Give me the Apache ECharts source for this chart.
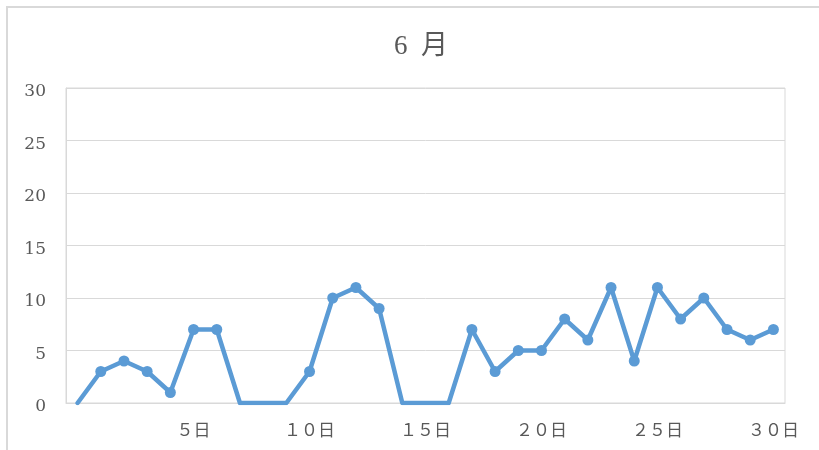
<!DOCTYPE html>
<html>
<head>
<meta charset="utf-8">
<script src="https://cdn.jsdelivr.net/npm/echarts@6/dist/echarts.min.js"></script>
<style>
  html, body { margin: 0; padding: 0; background: #ffffff; }
  #chart { width: 819px; height: 450px; }
</style>
</head>
<body>
<div id="chart"></div>
<script>
// Daily counts for June; the first slot is a blank row, empty cells are null (plotted as zero, no marker)
const days = ['', '１日', '２日', '３日', '４日', '５日', '６日', '７日', '８日', '９日', '１０日',
  '１１日', '１２日', '１３日', '１４日', '１５日', '１６日', '１７日', '１８日', '１９日', '２０日',
  '２１日', '２２日', '２３日', '２４日', '２５日', '２６日', '２７日', '２８日', '２９日', '３０日'];
const counts = [null, 3, 4, 3, 1, 7, 7, null, null, null, 3,
  10, 11, 9, null, null, null, 7, 3, 5, 5,
  8, 6, 11, 4, 11, 8, 10, 7, 6, 7];
const yTicks = { min: 0, max: 30, step: 5 };
const titleText = '6  月';

const chart = echarts.init(document.getElementById('chart'), null, { renderer: 'canvas' });

const seriesData = counts.map(v => v === null
  ? { value: 0, symbol: 'none' }
  : { value: v });

chart.setOption({
  animation: false,
  backgroundColor: '#ffffff',
  graphic: [{
    type: 'rect',
    shape: { x: 7, y: 7, width: 830, height: 470 },
    style: { fill: 'none', stroke: '#d9d9d9', lineWidth: 2 },
    silent: true
  }],
  title: {
    text: titleText,
    left: 416,
    top: 28,
    textAlign: 'center',
    textStyle: {
      fontFamily: 'Liberation Serif, "Noto Sans CJK JP", serif',
      fontSize: 27,
      fontWeight: 'normal',
      color: '#595959'
    }
  },
  grid: {
    left: 66, right: 34, top: 88, bottom: 47,
    show: true, borderColor: '#d9d9d9', borderWidth: 1
  },
  xAxis: {
    type: 'category',
    data: days,
    boundaryGap: true,
    axisLine: { show: true, lineStyle: { color: '#d9d9d9', width: 1 } },
    axisTick: { show: false },
    axisLabel: {
      interval: 4,
      margin: 20,
      fontSize: 17,
      color: '#595959',
      fontFamily: '"DejaVu Serif", "Noto Sans CJK JP", serif'
    }
  },
  yAxis: {
    type: 'value',
    min: yTicks.min,
    max: yTicks.max,
    interval: yTicks.step,
    axisLine: { show: true, lineStyle: { color: '#d9d9d9' } },
    axisTick: { show: false },
    splitLine: { lineStyle: { color: '#d9d9d9', width: 1 } },
    axisLabel: {
      margin: 20,
      formatter: v => '{t|' + v + '}',
      rich: {
        t: {
          fontSize: 17,
          padding: [8, 0, 0, 0],
          color: '#595959',
          fontFamily: '"DejaVu Serif", serif'
        }
      }
    }
  },
  series: [{
    type: 'line',
    data: seriesData,
    symbol: 'circle',
    symbolSize: 11,
    showAllSymbol: true,
    lineStyle: { color: '#5b9bd5', width: 4.5, join: 'round', cap: 'round' },
    itemStyle: { color: '#5b9bd5' },
    emphasis: { disabled: true }
  }]
});
</script>
</body>
</html>
